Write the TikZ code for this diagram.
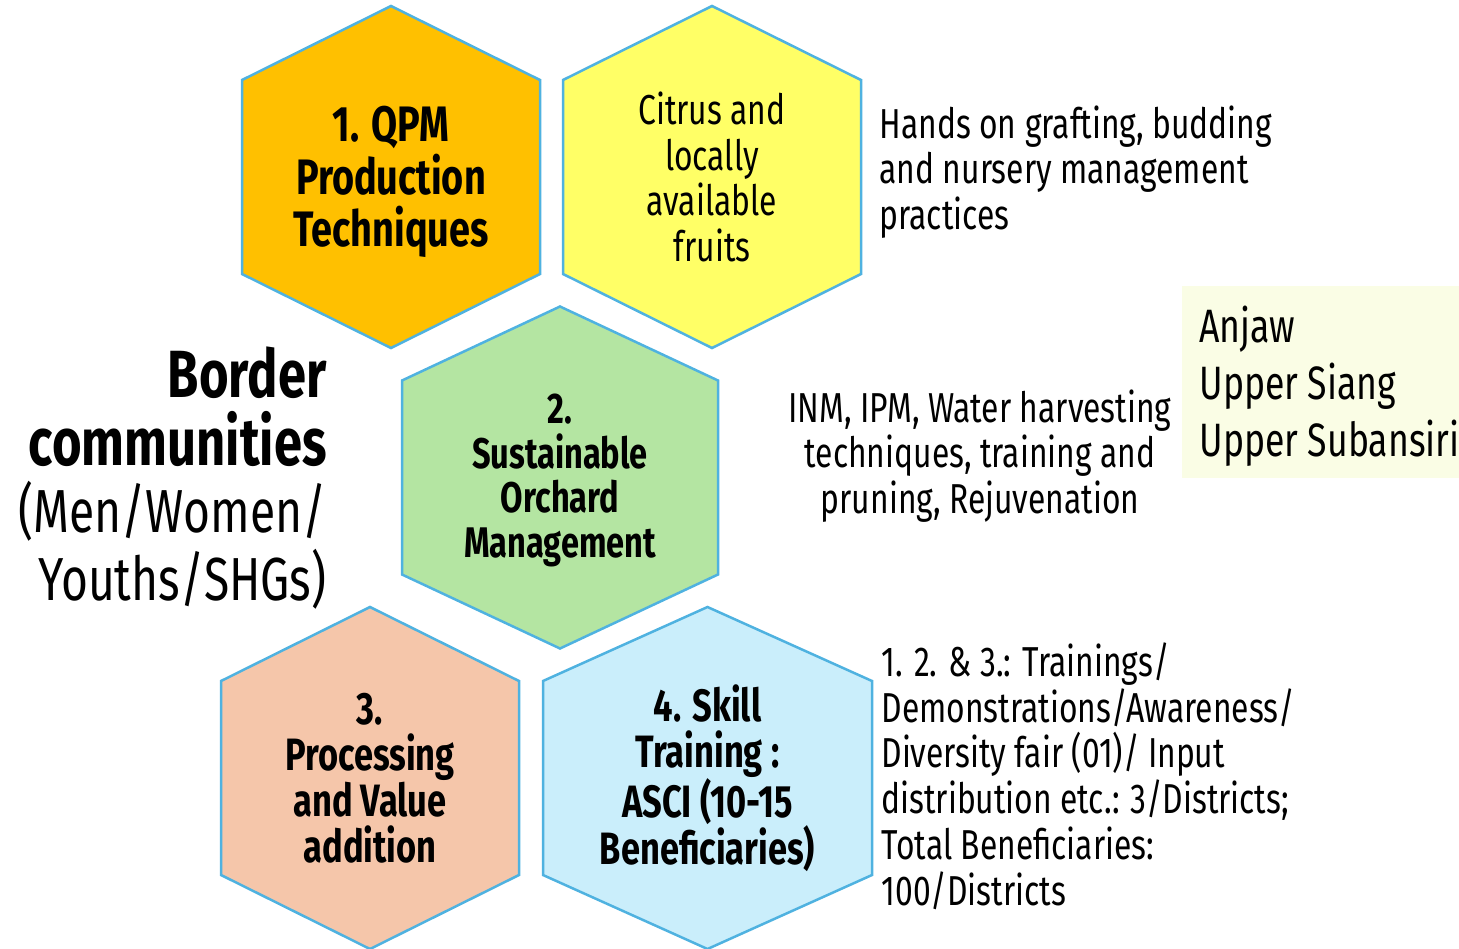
\documentclass[tikz,border=0pt]{standalone}
\usepackage{fontspec}
\setmainfont[FakeStretch=0.76]{Fira Sans}
\usetikzlibrary{positioning}

\definecolor{hexedge}{HTML}{4FB2E0}
\definecolor{qpmfill}{HTML}{FFC000}
\definecolor{citrusfill}{HTML}{FFFF66}
\definecolor{orchardfill}{HTML}{B4E5A2}
\definecolor{valuefill}{HTML}{F5C6AA}
\definecolor{skillfill}{HTML}{CAEEFB}
\definecolor{districtfill}{HTML}{FAFDE5}

% hexagon: name, centre x, centre y, half width, fill, text style, text
\newcommand{\hexcell}[7]{%
  \draw[hexline, fill=#5] (#2,#3-171) -- (#2+#4,#3-97) -- (#2+#4,#3+97)
    -- (#2,#3+171) -- (#2-#4,#3+97) -- (#2-#4,#3-97) -- cycle;
  \node[#6] (#1) at (#2,#3) {#7};
}

\begin{document}
\begin{tikzpicture}[x=1bp, y=-1bp,
    hexline/.style={draw=hexedge, line width=2.5bp},
    bigbold/.style={align=center, font=\bfseries\fontsize{50}{53}\selectfont},
    midbold/.style={align=center, font=\bfseries\fontsize{45.5}{46}\selectfont},
    plaintext/.style={font=\fontsize{42}{46}\selectfont},
    headtext/.style={align=right, font=\fontsize{61}{68}\selectfont}]

    \useasboundingbox (0,0) rectangle (1459,948);

    % --- Hexagons ---
    \hexcell{qpm}{391}{177}{149}{qpmfill}{bigbold, yshift=-5bp}{1. QPM\\Production\\Techniques}
    \hexcell{citrus}{712}{177}{149}{citrusfill}{plaintext, align=center}{Citrus and\\locally\\available\\fruits}
    \hexcell{orchard}{560}{477.5}{158}{orchardfill}{midbold, font=\bfseries\fontsize{43}{45}\selectfont, yshift=-3bp}{2.\\Sustainable\\Orchard\\Management}
    \hexcell{value}{370}{778}{149}{valuefill}{midbold}{3.\\Processing\\and Value\\addition}
    \hexcell{skill}{707.5}{778}{164.5}{skillfill}{midbold}{4. Skill\\Training :\\ASCI (10-15\\Beneficiaries)}

    % --- Target group ---
    \node[headtext, anchor=east] (border) at (330,478)
        {{\bfseries\fontsize{67}{68}\selectfont Border}\\{\bfseries\fontsize{67}{68}\selectfont communities}\\(Men/Women/\\Youths/SHGs)};

    % --- Descriptions ---
    \node[plaintext, align=left, anchor=west] (grafting) at (876,172)
        {Hands on grafting, budding\\and nursery management\\practices};
    \node[plaintext, align=center] (inm) at (980,456)
        {INM, IPM, Water harvesting\\techniques, training and\\pruning, Rejuvenation};
    \node[plaintext, align=left, anchor=north west] (trainings) at (878,639)
        {1. 2. \& 3.: Trainings/\\Demonstrations/Awareness/\\Diversity fair (01)/ Input\\distribution etc.: 3/Districts;\\Total Beneficiaries:\\100/Districts};

    % --- Districts ---
    \fill[districtfill] (1182,286) rectangle (1459,478);
    \node[align=left, anchor=west, font=\fontsize{47}{57}\selectfont] (districts) at (1196,386)
        {Anjaw\\Upper Siang\\Upper Subansiri};

\end{tikzpicture}
\end{document}
